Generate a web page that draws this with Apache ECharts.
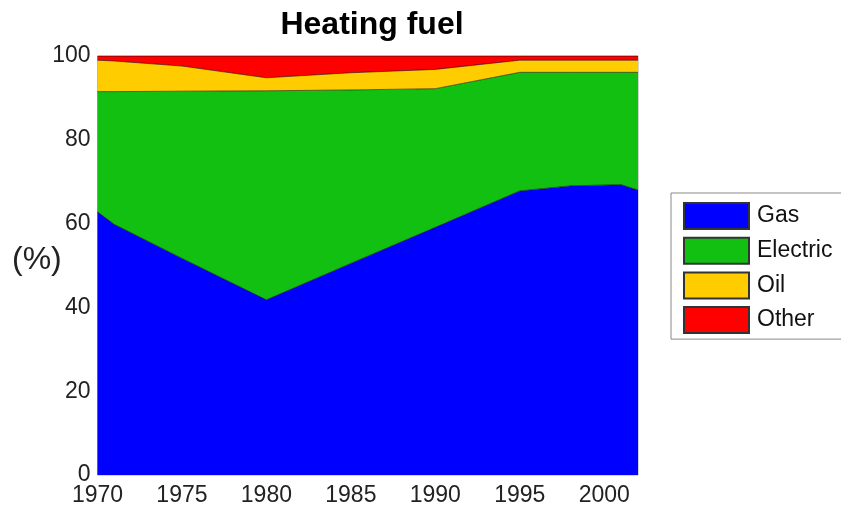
<!DOCTYPE html>
<html>
<head>
<meta charset="utf-8">
<script src="https://cdn.jsdelivr.net/npm/echarts@6/dist/echarts.min.js"></script>
<style>
  html, body { margin: 0; padding: 0; background: #fff; }
  #chart { width: 841px; height: 507px; }
</style>
</head>
<body>
<div id="chart"></div>
<script>
// breakpoints (percent share of each fuel)
const years    = [1970, 1971, 1975, 1980, 1985, 1990, 1995, 1998, 2001, 2002];
const gas      = [62.8, 59.8, 51.7, 41.8, 50.5, 59.1, 67.8, 69.0, 69.3, 68.0];
const electric = [28.7, 31.7, 39.9, 49.9, 41.4, 33.1, 28.3, 27.1, 26.8, 28.1];
const oil      = [ 7.5,  7.3,  6.0,  3.1,  4.1,  4.6,  2.9,  2.9,  2.9,  2.9];
const other    = [ 1.0,  1.2,  2.4,  5.2,  4.0,  3.2,  1.0,  1.0,  1.0,  1.0];

const names  = ['Gas', 'Electric', 'Oil', 'Other'];
const colors = ['#0000ff', '#12c012', '#ffcc00', '#ff0000'];
const font = 'Liberation Sans, Arial, sans-serif';

const chart = echarts.init(document.getElementById('chart'));

// value first so the stack goes on y (both axes are value axes)
const series = [gas, electric, oil, other].map((vals, i) => ({
  name: names[i],
  type: 'line',
  stack: 'total',
  symbol: 'none',
  encode: { x: 1, y: 0 },
  data: years.map((y, j) => [vals[j], y]),
  lineStyle: { width: 1, color: 'rgba(0,0,0,0.55)' },
  areaStyle: { color: colors[i], opacity: 1 },
  itemStyle: { color: colors[i], borderColor: '#333', borderWidth: 1 }
}));

chart.setOption({
  animation: false,
  title: {
    text: 'Heating fuel',
    left: 367, top: 4, textAlign: 'center',
    textStyle: { fontFamily: font, fontSize: 32, fontWeight: 'bold', color: '#000' }
  },
  legend: {
    orient: 'vertical',
    left: 671, top: 193,
    padding: [9, 120, 5, 12],
    itemWidth: 65, itemHeight: 26, itemGap: 6.7,
    icon: 'rect',
    borderColor: '#888', borderWidth: 1,
    textStyle: { fontFamily: font, fontSize: 23, color: '#111', padding: [0, 0, 0, 3] },
    data: names
  },
  graphic: [{
    type: 'text', left: 12, top: 244,
    style: { text: '(%)', font: '32px ' + font, fill: '#222' }
  }],
  grid: {
    left: 97.5, right: 203, top: 56, bottom: 32,
    outerBoundsMode: 'none',
    show: true, borderColor: '#aaa', borderWidth: 1
  },
  xAxis: {
    type: 'value', min: 1970, max: 2002, interval: 5,
    axisLine: { show: false }, axisTick: { show: false }, splitLine: { show: false },
    axisLabel: {
      fontFamily: font, fontSize: 23, color: '#222', margin: 9,
      formatter: v => (v % 5 === 0 ? String(v) : '')
    }
  },
  yAxis: {
    type: 'value', min: 0, max: 100, interval: 20,
    axisLine: { show: false }, axisTick: { show: false }, splitLine: { show: false },
    axisLabel: { fontFamily: font, fontSize: 23, color: '#222', margin: 7 }
  },
  series: series
});
</script>
</body>
</html>
